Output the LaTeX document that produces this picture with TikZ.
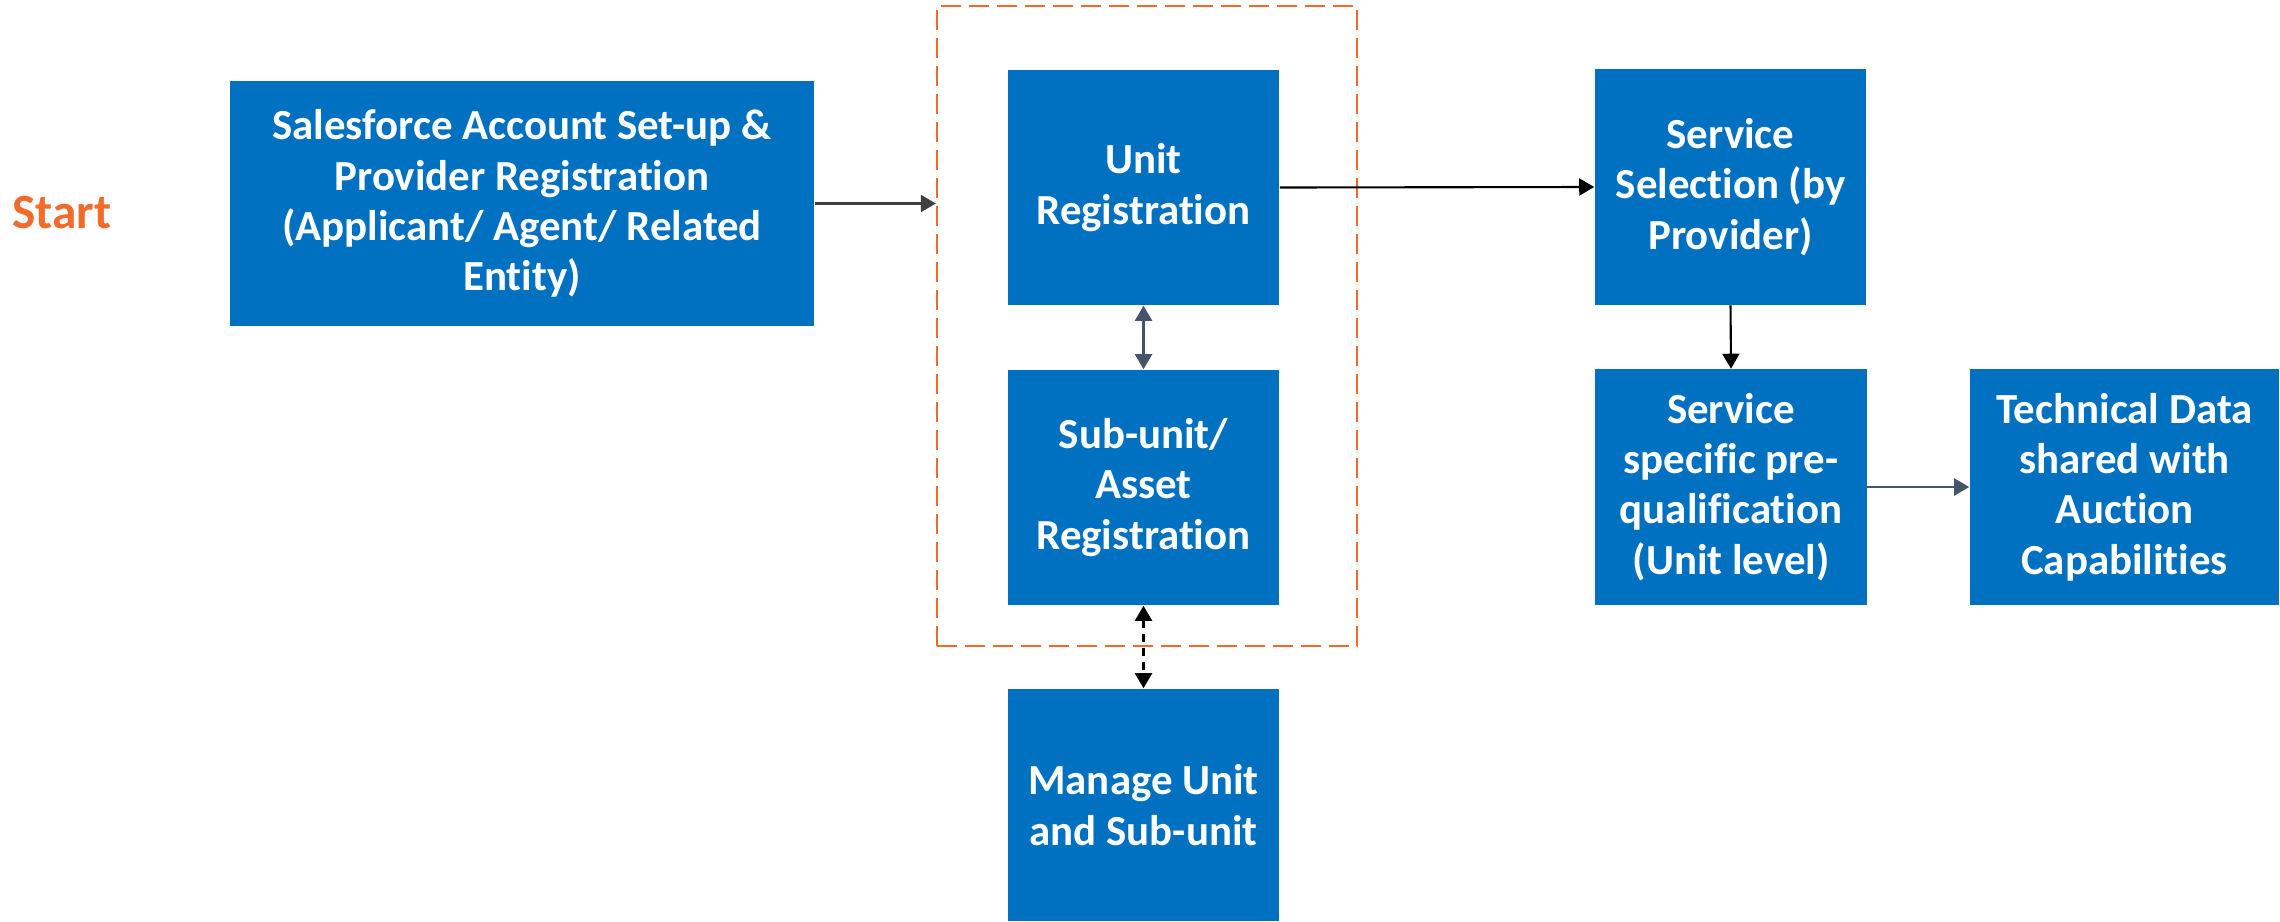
\documentclass[tikz,border=0pt]{standalone}
\usepackage{fontspec}
\setmainfont{Carlito}[Ligatures=NoCommon]
\usepackage{tikz}
\usetikzlibrary{arrows.meta}

\definecolor{boxblue}{HTML}{0070C0}
\definecolor{startorange}{HTML}{F26B2A}
\definecolor{slate}{HTML}{44546A}
\definecolor{darkgrey}{HTML}{404040}

\begin{document}
\begin{tikzpicture}[x=0.01cm, y=-0.01cm,
  stage/.style={fill=boxblue, text=white, font=\bfseries\fontsize{12.2}{14.3}\selectfont,
    align=center, inner sep=0pt, minimum width=2.71cm, minimum height=2.35cm},
  regbox/.style={draw=startorange, line width=0.6pt, dash pattern=on 0.2cm off 0.08cm,
    inner sep=0pt, minimum width=4.2cm, minimum height=6.4cm},
  flow/.style={-{Triangle[length=0.15cm,width=0.17cm]}, line width=0.6pt},
  twoway/.style={{Triangle[length=0.15cm,width=0.17cm]}-{Triangle[length=0.15cm,width=0.17cm]}, line width=0.6pt}]

\useasboundingbox (0,0) rectangle (2280,921);

\node[text=startorange, font=\bfseries\fontsize{14}{16}\selectfont] (start) at (62,213) {Start};

\node[stage, minimum width=5.84cm, minimum height=2.45cm] (sfreg) at (522,203.5)
  {Salesforce Account Set-up \&\\Provider Registration\\(Applicant/ Agent/ Related\\Entity)};

% registration steps inside the dashed frame
\node[stage] (unitreg) at (1143.5,187.5) {Unit\\Registration};
\node[stage] (subreg) at (1143.5,487.5) {Sub-unit/\\Asset\\Registration};
\node[regbox] (regframe) at (1147,326) {};
\node[stage, minimum height=2.32cm] (manage) at (1143.5,805) {Manage Unit\\and Sub-unit};

\node[stage] (servsel) at (1730.5,187) {Service\\Selection (by\\Provider)};
\node[stage] (servpq) at (1731,487) {Service\\specific pre-\\qualification\\(Unit level)};
\node[stage, minimum width=3.09cm] (techdata) at (2124.5,487) {Technical Data\\shared with\\Auction\\Capabilities};

\draw[flow, darkgrey] (sfreg.east) -- (sfreg.east -| regframe.west);
\draw[flow] (unitreg.east) -- (servsel.west);
\draw[twoway, slate] (unitreg.south) -- (subreg.north);
\draw[twoway, dash pattern=on 0.08cm off 0.06cm] (subreg.south) -- (manage.north);
\draw[flow] (servsel.south) -- (servpq.north);
\draw[flow, slate] (servpq.east) -- (techdata.west);

\end{tikzpicture}
\end{document}
